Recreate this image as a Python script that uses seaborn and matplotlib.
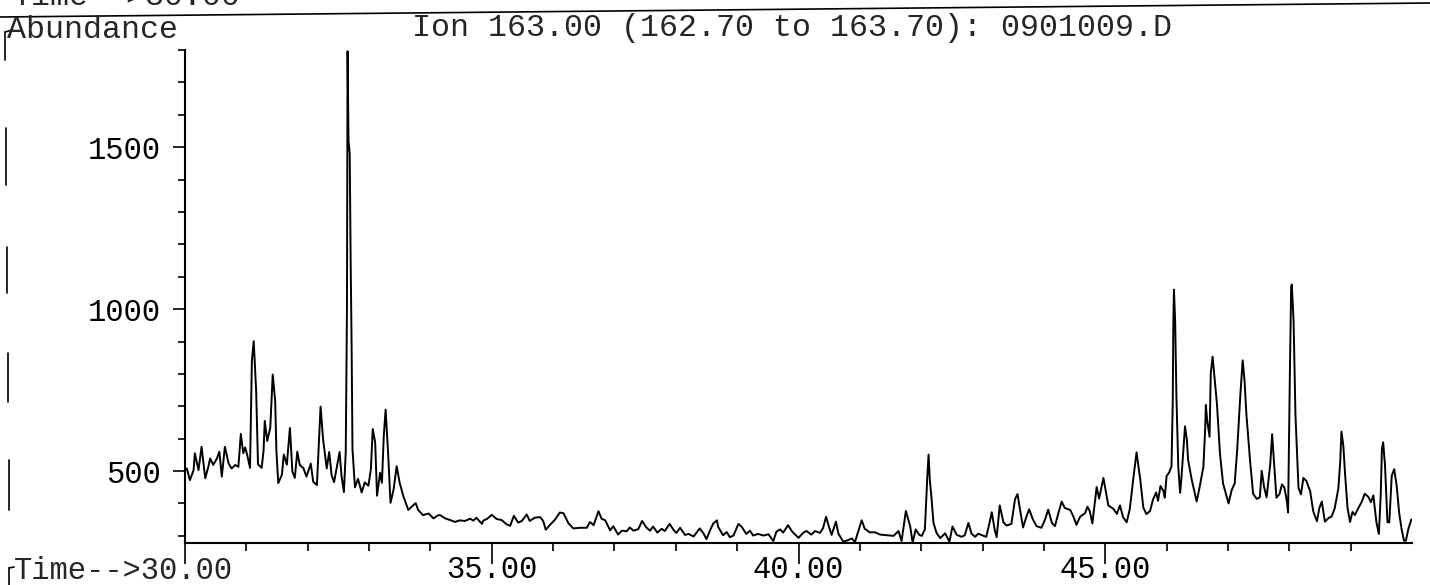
import pandas as pd
import matplotlib.pyplot as plt
import seaborn as sns
from matplotlib.lines import Line2D

# Ion 163 chromatogram (time in min, abundance)
early_time = [30.00, 30.03, 30.08, 30.14, 30.16, 30.22, 30.27, 30.33, 30.38, 30.41, 30.46, 30.52,
              30.56, 30.60, 30.65, 30.71, 30.76, 30.82, 30.87, 30.91, 30.95, 30.98, 31.01, 31.06,
              31.09, 31.12, 31.16, 31.19, 31.25, 31.28, 31.30, 31.34, 31.39, 31.43, 31.47, 31.49,
              31.52, 31.58, 31.61, 31.66, 31.71, 31.75, 31.79, 31.83, 31.87, 31.93, 31.98, 32.05,
              32.09, 32.15, 32.21, 32.25, 32.31, 32.35, 32.39, 32.43, 32.47, 32.52, 32.55, 32.59,
              32.62, 32.64, 32.65, 32.665, 32.685, 32.70, 32.715, 32.73, 32.77, 32.82, 32.88, 32.93,
              32.99, 33.03, 33.06, 33.10, 33.13, 33.18, 33.21, 33.24, 33.27, 33.31, 33.35, 33.40,
              33.45, 33.50, 33.56, 33.64, 33.70, 33.76, 33.80, 33.88, 33.97, 34.05, 34.13]
early_abund = [503, 508, 472, 503, 555, 503, 575, 478, 513, 539, 519, 539,
               560, 483, 575, 524, 508, 519, 513, 615, 555, 573, 553, 510,
               840, 901, 747, 521, 510, 562, 655, 593, 634, 798, 716, 561,
               463, 489, 551, 520, 633, 499, 479, 560, 519, 509, 483, 523,
               467, 457, 699, 600, 508, 559, 487, 466, 507, 559, 487, 435,
               558, 1000, 1796, 1520, 1480, 1150, 900, 568, 450, 476, 434, 465,
               455, 506, 630, 588, 424, 495, 464, 608, 690, 557, 402, 443,
               515, 463, 422, 380, 391, 401, 380, 364, 369, 354, 364]

mid_time = [34.16, 34.24, 34.32, 34.40, 34.48, 34.56, 34.65, 34.70, 34.75, 34.84, 34.86, 34.92,
            35.00, 35.08, 35.16, 35.24, 35.30, 35.36, 35.43, 35.49, 35.57, 35.62, 35.70, 35.79,
            35.84, 35.88, 35.95, 36.03, 36.11, 36.17, 36.25, 36.33, 36.44, 36.55, 36.60, 36.66,
            36.74, 36.79, 36.85, 36.93, 36.98, 37.06, 37.12, 37.20, 37.25, 37.31, 37.39, 37.45,
            37.52, 37.58, 37.63, 37.70, 37.77, 37.82, 37.90, 37.96, 38.01, 38.07, 38.15, 38.21,
            38.29, 38.39, 38.45, 38.50, 38.56, 38.61, 38.67, 38.69, 38.77, 38.83, 38.88, 38.94,
            39.02, 39.07, 39.15, 39.21, 39.26, 39.34, 39.43, 39.51, 39.59, 39.64, 39.70, 39.75,
            39.83, 39.89, 39.94, 40.00, 40.08, 40.13, 40.21, 40.27, 40.35, 40.40, 40.45, 40.49,
            40.54, 40.61, 40.65, 40.73, 40.81, 40.87, 40.92, 41.03, 41.08, 41.16, 41.25, 41.33,
            41.44, 41.55, 41.63, 41.68, 41.75, 41.82, 41.86, 41.91, 41.97, 42.01, 42.06, 42.10,
            42.12, 42.14, 42.17, 42.20, 42.25, 42.31]
mid_abund = [364, 354, 349, 343, 348, 346, 353, 347, 356, 337, 347, 352,
             365, 352, 349, 336, 331, 362, 341, 346, 366, 346, 356, 358,
             345, 319, 334, 350, 372, 370, 339, 323, 325, 325, 343, 333,
             376, 353, 348, 317, 330, 304, 316, 314, 326, 316, 321, 346,
             326, 316, 329, 310, 322, 315, 337, 319, 309, 325, 303, 306,
             298, 323, 308, 290, 318, 338, 348, 328, 302, 312, 296, 301,
             337, 329, 306, 316, 301, 306, 301, 305, 284, 313, 320, 310,
             333, 315, 305, 294, 310, 315, 304, 315, 309, 324, 359, 332,
             303, 344, 307, 282, 287, 292, 281, 348, 322, 311, 311, 304,
             302, 300, 315, 284, 377, 330, 279, 320, 303, 300, 320, 484,
             551, 474, 412, 340, 309, 293]

rise_time = [42.39, 42.46, 42.51, 42.58, 42.66, 42.71, 42.77, 42.82, 42.88, 42.93, 42.99, 43.06,
             43.11, 43.15, 43.20, 43.23, 43.28, 43.34, 43.39, 43.47, 43.53, 43.57, 43.60, 43.66,
             43.72, 43.76, 43.82, 43.88, 43.96, 44.02, 44.07, 44.13, 44.18, 44.23, 44.29, 44.34,
             44.43, 44.48, 44.53, 44.59, 44.67, 44.71, 44.75, 44.79, 44.86, 44.90, 44.97, 45.01,
             45.05, 45.13, 45.19, 45.24, 45.29, 45.35, 45.40, 45.46, 45.51, 45.57, 45.62, 45.67]
rise_abund = [308, 282, 329, 303, 297, 302, 340, 307, 297, 307, 302, 297,
              337, 373, 317, 296, 394, 342, 332, 337, 414, 429, 393, 326,
              362, 382, 351, 330, 325, 351, 381, 340, 330, 366, 406, 386,
              380, 360, 334, 359, 370, 390, 375, 338, 451, 415, 479, 436,
              394, 384, 368, 394, 358, 342, 383, 481, 558, 475, 388, 367]

late_time = [45.73, 45.78, 45.83, 45.86, 45.90, 45.95, 45.97, 46.00, 46.04, 46.08, 46.10, 46.11,
             46.12, 46.14, 46.16, 46.19, 46.22, 46.24, 46.27, 46.30, 46.33, 46.35, 46.41, 46.46,
             46.49, 46.54, 46.60, 46.63, 46.64, 46.66, 46.70, 46.72, 46.75, 46.77, 46.82, 46.87,
             46.92, 46.95, 47.01, 47.06, 47.11, 47.15, 47.20, 47.24, 47.27, 47.30, 47.36, 47.41,
             47.47, 47.52, 47.55, 47.59, 47.63, 47.69, 47.72, 47.75, 47.79, 47.84, 47.88, 47.92,
             47.96, 47.98, 48.01, 48.03, 48.04, 48.07, 48.10, 48.15, 48.19, 48.23, 48.28, 48.34,
             48.39, 48.45, 48.49, 48.53, 48.58, 48.64, 48.69, 48.74, 48.80, 48.83, 48.85, 48.88,
             48.91, 48.95, 48.99, 49.03, 49.07, 49.12, 49.18, 49.23, 49.29, 49.33, 49.37, 49.42,
             49.46, 49.49, 49.51, 49.53, 49.56, 49.60, 49.63, 49.67, 49.71, 49.75, 49.79, 49.83,
             49.87, 49.90, 49.94, 49.99]
late_abund = [377, 413, 434, 408, 454, 438, 418, 485, 495, 515, 711, 958,
              1060, 957, 731, 515, 433, 474, 556, 638, 597, 535, 473, 432,
              406, 452, 514, 637, 704, 658, 606, 802, 853, 812, 709, 554,
              462, 441, 400, 441, 462, 564, 729, 842, 780, 677, 533, 430,
              414, 419, 501, 450, 419, 522, 614, 532, 418, 429, 459, 449,
              408, 372, 809, 1066, 1076, 963, 675, 448, 428, 479, 469, 438,
              376, 345, 386, 406, 344, 355, 360, 385, 447, 529, 622, 580,
              488, 385, 343, 374, 364, 384, 405, 430, 420, 404, 425, 342,
              306, 425, 569, 589, 517, 342, 342, 486, 506, 455, 372, 321,
              285, 285, 321, 351]

major_x = [30, 35, 40, 45]
major_x_labels = ["", "35.00", "40.00", "45.00"]
major_y = [500, 1000, 1500]

df = pd.concat([
    pd.DataFrame({"time": early_time, "abundance": early_abund}),
    pd.DataFrame({"time": mid_time, "abundance": mid_abund}),
    pd.DataFrame({"time": rise_time, "abundance": rise_abund}),
    pd.DataFrame({"time": late_time, "abundance": late_abund}),
], ignore_index=True)

sns.set_style("ticks")
plt.rcParams['font.family'] = ['Liberation Mono', 'DejaVu Sans Mono']

W, H = 1430, 585
fig = plt.figure(figsize=(W / 100, H / 100), dpi=100)
ax = fig.add_axes([185 / W, 1 - 543 / H, (1412 - 185) / W, (543 - 50) / H])

sns.lineplot(data=df, x="time", y="abundance", color="black", linewidth=1.4,
             estimator=None, sort=False, ax=ax)

ax.set_xlim(30, 50)
ax.set_ylim(278, 1800)
ax.set_xlabel("")
ax.set_ylabel("")
sns.despine(ax=ax)
for side in ["left", "bottom"]:
    ax.spines[side].set_linewidth(1.5)
    ax.spines[side].set_color("black")

ax.set_xticks(major_x)
ax.set_xticklabels(major_x_labels)
ax.set_xticks([m for m in range(31, 50) if m not in major_x], minor=True)
ax.set_yticks(major_y)
ax.set_yticklabels([str(v) for v in major_y])
ax.set_yticks([v for v in range(300, 1801, 100) if v not in major_y], minor=True)

ax.tick_params(axis="x", which="major", length=15, width=1.2, pad=-6, labelsize=22, colors="black")
ax.tick_params(axis="x", which="minor", length=5.5, width=1.2, colors="black")
ax.tick_params(axis="y", which="major", length=8.5, width=1.2, pad=9, labelsize=22, colors="black")
ax.tick_params(axis="y", which="minor", length=5, width=1.2, colors="black")


def px(x, y):
    return x / W, 1 - y / H


fs = 22.8
fig.text(*px(7, 30), "Abundance", fontsize=fs, va="center", ha="left")
fig.text(*px(412, 28), "Ion 163.00 (162.70 to 163.70): 0901009.D", fontsize=fs, va="center", ha="left")
fig.text(*px(13, 5), "Time-->30.00", fontsize=fs, va="baseline", ha="left")
fig.text(*px(14, 556), "Time-->30.00", fontsize=22, va="top", ha="left")

# scan border and punch marks
marks = [((0, 17), (1430, 3)),
         ((5, 32), (5, 60)), ((5, 32), (12, 30)),
         ((6, 128), (6, 185)), ((7, 247), (7, 293)),
         ((8, 353), (8, 402)), ((9, 460), (9, 510)),
         ((9, 568), (9, 585)), ((9, 568), (14, 567))]
for (x0, y0), (x1, y1) in marks:
    a, b = px(x0, y0)
    c, d = px(x1, y1)
    fig.add_artist(Line2D([a, c], [b, d], transform=fig.transFigure, color="black", linewidth=1.2))

fig.savefig("out.png", dpi=100, facecolor="white")
